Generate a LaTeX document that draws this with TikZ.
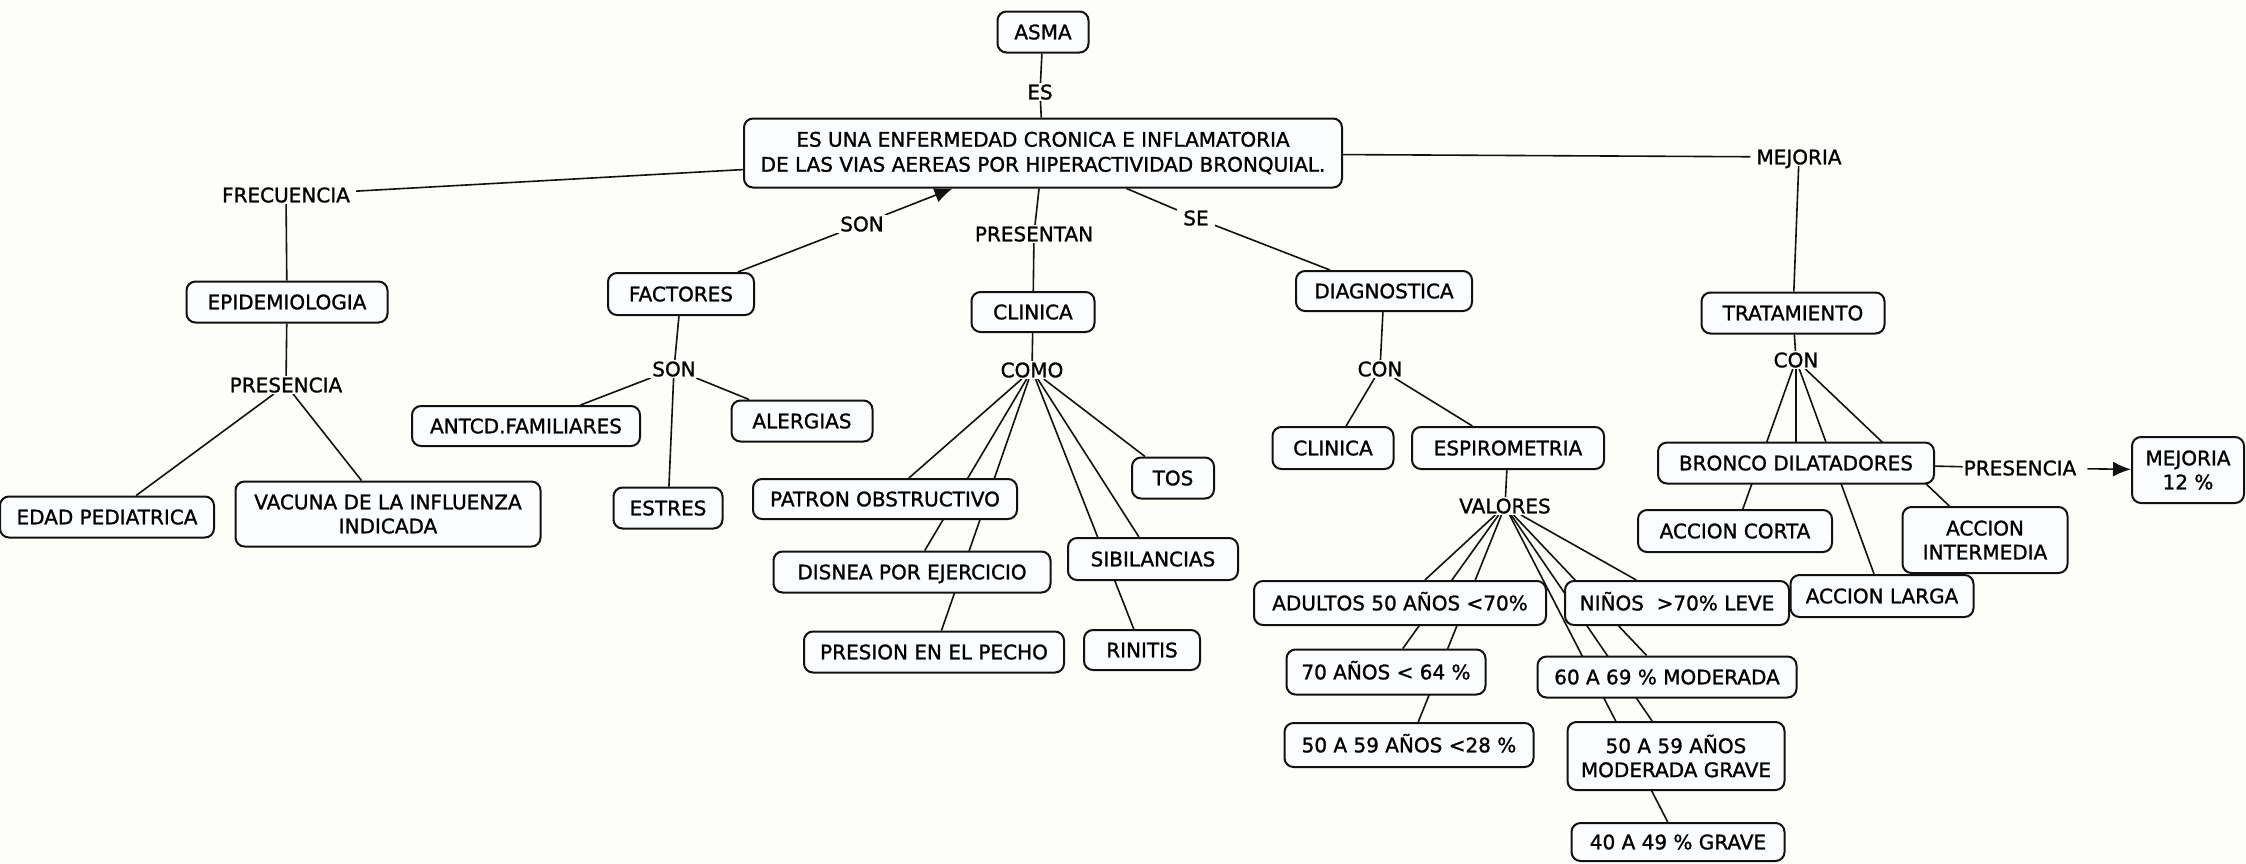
\documentclass[tikz,border=0pt]{standalone}
\usepackage{fontspec}
\setmainfont{DejaVu Sans}
\newfontfamily\mapfont[FakeBold=1.2]{DejaVu Sans}
\usetikzlibrary{arrows.meta}
\pgfdeclarelayer{back}
\pgfdeclarelayer{bg}
\pgfsetlayers{back,bg,main}
\definecolor{pagebg}{HTML}{FDFDFA}
\definecolor{boxfill}{HTML}{FAFCFE}
\definecolor{ink}{HTML}{111111}
\tikzset{
  concept/.style={draw=ink, line width=2pt, rounded corners=9pt, fill=boxfill,
    inner sep=0pt, text=black, font=\mapfont\fontsize{20}{25}\selectfont,
    text height=14.6pt, text depth=0pt},
  concepttwo/.style={draw=ink, line width=2pt, rounded corners=9pt, fill=boxfill,
    inner sep=0pt, text=black, align=center, font=\mapfont\fontsize{20}{24}\selectfont},
  link/.style={fill=pagebg, inner xsep=6pt, inner ysep=1.5pt, text=black, font=\mapfont\fontsize{20}{24}\selectfont,
    text height=14.6pt, text depth=0pt},
  conn/.style={draw=ink, line width=1.6pt},
  arr/.style={conn, -{Latex[length=18pt,width=15pt]}}
}
\begin{document}
\begin{tikzpicture}[x=1pt,y=-1pt]
\useasboundingbox (0,0) rectangle (2246,863);
\begin{pgfonlayer}{back}
\fill[pagebg] (0,0) rectangle (2246,863);
\end{pgfonlayer}

% concepts
\node[concept, minimum width=91pt, minimum height=41pt] (asma) at (1043,32) {ASMA};
\node[concepttwo, minimum width=598pt, minimum height=69pt, font=\mapfont\fontsize{20}{25}\selectfont] (main) at (1043,153)
  {ES UNA ENFERMEDAD CRONICA E INFLAMATORIA\\DE LAS VIAS AEREAS POR HIPERACTIVIDAD BRONQUIAL.};
\node[concept, minimum width=201pt, minimum height=41pt] (epi) at (287,302) {EPIDEMIOLOGIA};
\node[concept, minimum width=214pt, minimum height=41pt] (edad) at (107,517) {EDAD PEDIATRICA};
\node[concepttwo, minimum width=305pt, minimum height=65pt] (vacuna) at (388,514) {VACUNA DE LA INFLUENZA\\INDICADA};
\node[concept, minimum width=146pt, minimum height=42pt] (factores) at (681,294) {FACTORES};
\node[concept, minimum width=228pt, minimum height=40pt] (antcd) at (526,426) {ANTCD.FAMILIARES};
\node[concept, minimum width=109pt, minimum height=41pt] (estres) at (668,508) {ESTRES};
\node[concept, minimum width=141pt, minimum height=41pt] (alergias) at (802,421) {ALERGIAS};
\node[concept, minimum width=123pt, minimum height=40pt] (clinica) at (1033,312) {CLINICA};
\node[concept, minimum width=264pt, minimum height=40pt] (patron) at (885,499) {PATRON OBSTRUCTIVO};
\node[concept, minimum width=277pt, minimum height=41pt] (disnea) at (912,572) {DISNEA POR EJERCICIO};
\node[concept, minimum width=260pt, minimum height=41pt] (presion) at (934,652) {PRESION EN EL PECHO};
\node[concept, minimum width=82pt, minimum height=41pt] (tos) at (1173,478) {TOS};
\node[concept, minimum width=170pt, minimum height=42pt] (sibil) at (1153,559) {SIBILANCIAS};
\node[concept, minimum width=116pt, minimum height=40pt] (rinitis) at (1142,650) {RINITIS};
\node[concept, minimum width=176pt, minimum height=40pt] (diag) at (1384,291) {DIAGNOSTICA};
\node[concept, minimum width=121pt, minimum height=42pt] (clinicab) at (1333,448) {CLINICA};
\node[concept, minimum width=192pt, minimum height=42pt] (espiro) at (1508,448) {ESPIROMETRIA};
\node[concept, minimum width=292pt, minimum height=44pt] (adultos) at (1400,603) {ADULTOS 50 AÑOS <70\%};
\node[concept, minimum width=224pt, minimum height=44pt] (ninos) at (1677,603) {NIÑOS\ \ >70\% LEVE};
\node[concept, minimum width=199pt, minimum height=45pt] (setenta) at (1386,672) {70 AÑOS < 64 \%};
\node[concept, minimum width=249pt, minimum height=44pt] (cincuenta) at (1409,745) {50 A 59 AÑOS <28 \%};
\node[concept, minimum width=259pt, minimum height=41pt] (sesenta) at (1667,677) {60 A 69 \% MODERADA};
\node[concepttwo, minimum width=217pt, minimum height=68pt] (cincmg) at (1676,756) {50 A 59 AÑOS\\MODERADA GRAVE};
\node[concept, minimum width=213pt, minimum height=38pt] (cuarenta) at (1678,842) {40 A 49 \% GRAVE};
\node[concept, minimum width=183pt, minimum height=41pt] (trat) at (1793,313) {TRATAMIENTO};
\node[concept, minimum width=276pt, minimum height=41pt] (bronco) at (1796,463) {BRONCO DILATADORES};
\node[concept, minimum width=194pt, minimum height=42pt] (corta) at (1735,531) {ACCION CORTA};
\node[concept, minimum width=183pt, minimum height=42pt] (larga) at (1882,596) {ACCION LARGA};
\node[concepttwo, minimum width=165pt, minimum height=66pt] (inter) at (1985,540) {ACCION\\INTERMEDIA};
\node[concepttwo, minimum width=112pt, minimum height=66pt] (mejora) at (2188,470) {MEJORIA\\12 \%};

% linking phrases
\node[link] (es) at (1040,92) {ES};
\node[link] (frec) at (286,195) {FRECUENCIA};
\node[link] (sonA) at (862,224) {SON};
\node[link] (presentan) at (1034,234) {PRESENTAN};
\node[link] (se) at (1196,218) {SE};
\node[link] (mejoria) at (1799,157) {MEJORIA};
\node[link] (presA) at (286,385) {PRESENCIA};
\node[link] (sonB) at (674,369) {SON};
\node[link] (como) at (1032,370) {COMO};
\node[link] (conA) at (1380,369) {CON};
\node[link] (valores) at (1505,506) {VALORES};
\node[link] (conB) at (1796,360) {CON};
\node[link, inner xsep=1pt] (presB) at (2020,468) {PRESENCIA};

\begin{pgfonlayer}{bg}
\draw[conn] (asma) -- (es);
\draw[conn] (es) -- (main);
\draw[conn] (main) -- (frec);
\draw[conn] (frec) -- (epi);
\draw[conn] (epi) -- (presA);
\draw[conn] (presA) -- (edad);
\draw[conn] (presA) -- (vacuna);
\draw[conn] (factores) -- (sonA);
\draw[arr] (sonA) -- (main);
\draw[conn] (factores) -- (sonB);
\draw[conn] (sonB) -- (antcd);
\draw[conn] (sonB) -- (estres);
\draw[conn] (sonB) -- (alergias);
\draw[conn] (main) -- (presentan);
\draw[conn] (presentan) -- (clinica);
\draw[conn] (clinica) -- (como);
\draw[conn] (como) -- (patron);
\draw[conn] (como) -- (disnea);
\draw[conn] (como) -- (presion);
\draw[conn] (como) -- (tos);
\draw[conn] (como) -- (sibil);
\draw[conn] (como) -- (rinitis);
\draw[conn] (main) -- (se);
\draw[conn] (se) -- (diag);
\draw[conn] (diag) -- (conA);
\draw[conn] (conA) -- (clinicab);
\draw[conn] (conA) -- (espiro);
\draw[conn] (espiro) -- (valores);
\draw[conn] (valores) -- (adultos);
\draw[conn] (valores) -- (setenta);
\draw[conn] (valores) -- (cincuenta);
\draw[conn] (valores) -- (ninos);
\draw[conn] (valores) -- (sesenta);
\draw[conn] (valores) -- (cincmg);
\draw[conn] (valores) -- (cuarenta);
\draw[conn] (main) -- (mejoria);
\draw[conn] (mejoria) -- (trat);
\draw[conn] (trat) -- (conB);
\draw[conn] (conB) -- (bronco);
\draw[conn] (conB) -- (corta);
\draw[conn] (conB) -- (larga);
\draw[conn] (conB) -- (inter);
\draw[conn] (bronco) -- (presB);
\draw[arr, shorten <=10pt] (presB) -- (mejora);
\end{pgfonlayer}
\end{tikzpicture}
\end{document}
